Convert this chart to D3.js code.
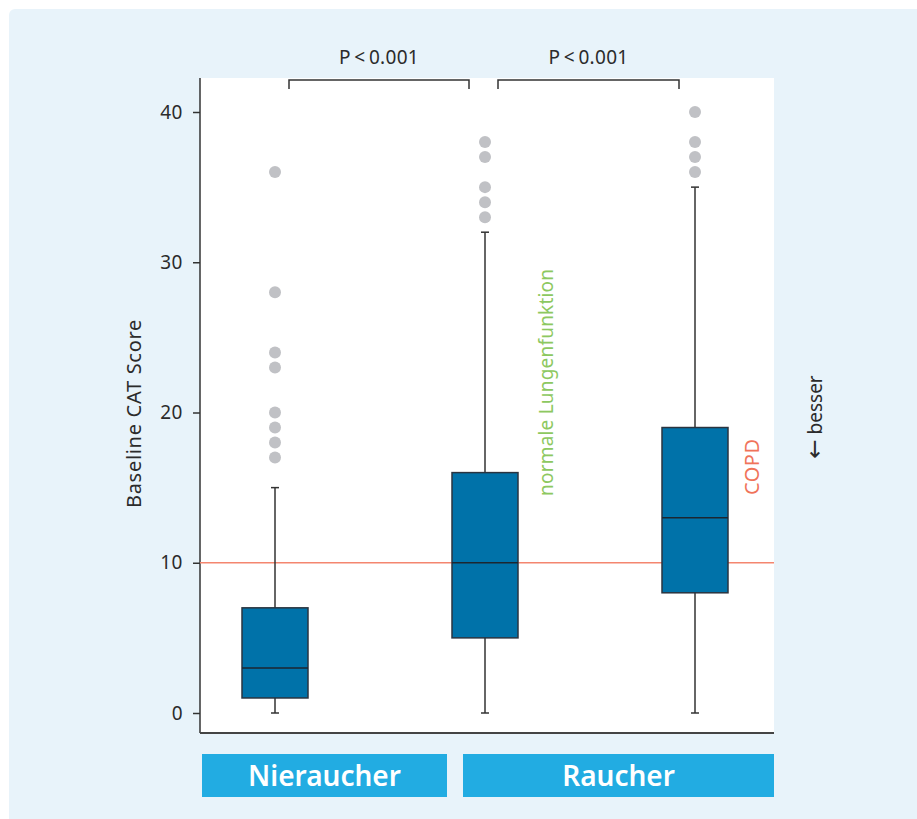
<!DOCTYPE html>
<html>
<head>
  <meta charset="utf-8">
  <title>Baseline CAT Score</title>
  <script src="https://cdnjs.cloudflare.com/ajax/libs/d3/7.8.5/d3.min.js"></script>
  <style>
    html, body { margin: 0; padding: 0; background: #ffffff; }
    text { font-family: "Noto Sans", "Open Sans", sans-serif; }
  </style>
</head>
<body>
  <div id="canvas"></div>
  <script>
    // data
    var groups = ["Nieraucher", "Raucher normal", "Raucher COPD"];
    var whiskLow = [0, 0, 0];
    var q1 = [1, 5, 8];
    var median = [3, 10, 13];
    var q3 = [7, 16, 19];
    var whiskHigh = [15, 32, 35];
    var outliers = [
      [17, 18, 19, 20, 23, 24, 28, 36],
      [33, 34, 35, 37, 38],
      [36, 37, 38, 40]
    ];
    var yTicks = [0, 10, 20, 30, 40];
    var threshold = 10;
    var pLabels = ["P\u2009<\u20090.001", "P\u2009<\u20090.001"];
    var categoryLabels = ["Nieraucher", "Raucher"];

    // layout
    var width = 917, height = 819,
      plotLeft = 200, plotRight = 774, plotTop = 78, plotBottom = 733,
      boxW = 66, capW = 8;

    var svg = d3.select("#canvas").append("svg")
      .attr("width", width).attr("height", height);

    // panel background
    svg.append("rect")
      .attr("x", 9).attr("y", 9).attr("width", 920).attr("height", 830)
      .attr("rx", 6).attr("fill", "#e8f3fa");

    svg.append("rect")
      .attr("x", plotLeft).attr("y", plotTop)
      .attr("width", plotRight - plotLeft).attr("height", plotBottom - plotTop)
      .attr("fill", "#ffffff");

    var y = d3.scaleLinear().domain([0, 40]).range([713, 112]);
    var x = d3.scalePoint().domain(groups).range([275, 695]);

    // y axis
    var yAxis = svg.append("g")
      .attr("transform", "translate(" + plotLeft + ",0)")
      .call(d3.axisLeft(y).tickValues(yTicks).tickSize(7).tickPadding(10).tickSizeOuter(0));
    yAxis.select(".domain").remove();
    yAxis.selectAll(".tick line").attr("stroke", "#333").attr("stroke-width", 1.5);
    yAxis.selectAll(".tick text")
      .attr("font-size", 19).attr("fill", "#2b2b2b").attr("letter-spacing", 0.5)
      .style("font-family", "'Noto Sans', sans-serif");

    // frame: left and bottom lines
    svg.append("line")
      .attr("x1", plotLeft).attr("x2", plotLeft)
      .attr("y1", plotTop).attr("y2", plotBottom)
      .attr("stroke", "#333").attr("stroke-width", 1.5);
    svg.append("line")
      .attr("x1", plotLeft).attr("x2", plotRight)
      .attr("y1", plotBottom).attr("y2", plotBottom)
      .attr("stroke", "#444").attr("stroke-width", 2);

    // axis title
    svg.append("text")
      .attr("transform", "translate(141," + (y(20) + 1) + ") rotate(-90)")
      .attr("text-anchor", "middle")
      .attr("font-size", 20).attr("letter-spacing", 0.7).attr("fill", "#2b2b2b")
      .text("Baseline CAT Score");

    // threshold line
    svg.append("line")
      .attr("x1", plotLeft).attr("x2", plotRight)
      .attr("y1", y(threshold)).attr("y2", y(threshold))
      .attr("stroke", "#f4866f").attr("stroke-width", 1.5);

    var boxes = groups.map(function (g, i) {
      return { g: g, lo: whiskLow[i], q1: q1[i], med: median[i], q3: q3[i], hi: whiskHigh[i], out: outliers[i] };
    });

    var bg = svg.append("g").selectAll("g").data(boxes).enter().append("g");

    // whiskers
    bg.append("line")
      .attr("x1", function (d) { return x(d.g); }).attr("x2", function (d) { return x(d.g); })
      .attr("y1", function (d) { return y(d.lo); }).attr("y2", function (d) { return y(d.hi); })
      .attr("stroke", "#333").attr("stroke-width", 1.5);
    ["lo", "hi"].forEach(function (k) {
      bg.append("line")
        .attr("x1", function (d) { return x(d.g) - capW / 2; })
        .attr("x2", function (d) { return x(d.g) + capW / 2; })
        .attr("y1", function (d) { return y(d[k]); }).attr("y2", function (d) { return y(d[k]); })
        .attr("stroke", "#333").attr("stroke-width", 1.5);
    });

    // boxes
    bg.append("rect")
      .attr("x", function (d) { return x(d.g) - boxW / 2; })
      .attr("y", function (d) { return y(d.q3); })
      .attr("width", boxW)
      .attr("height", function (d) { return y(d.q1) - y(d.q3); })
      .attr("fill", "#0072a9").attr("stroke", "#2a3440").attr("stroke-width", 1.5);

    // medians
    bg.append("line")
      .attr("x1", function (d) { return x(d.g) - boxW / 2; })
      .attr("x2", function (d) { return x(d.g) + boxW / 2; })
      .attr("y1", function (d) { return y(d.med); }).attr("y2", function (d) { return y(d.med); })
      .attr("stroke", "#1c2630").attr("stroke-width", 1.5);

    // outliers
    bg.selectAll("circle")
      .data(function (d) { return d.out.map(function (v) { return { g: d.g, v: v }; }); })
      .enter().append("circle")
      .attr("cx", function (d) { return x(d.g); })
      .attr("cy", function (d) { return y(d.v); })
      .attr("r", 6)
      .attr("fill", "#c0c1c5");

    // significance brackets
    var brackets = [[289, 469], [498, 679]];
    brackets.forEach(function (b, i) {
      svg.append("path")
        .attr("d", "M" + b[0] + ",89V80H" + b[1] + "V89")
        .attr("fill", "none").attr("stroke", "#333").attr("stroke-width", 1.5);
      svg.append("text")
        .attr("x", (b[0] + b[1]) / 2).attr("y", 64)
        .attr("text-anchor", "middle")
        .attr("font-size", 19).attr("letter-spacing", 0.3).attr("fill", "#2b2b2b")
        .text(pLabels[i]);
    });

    // annotations
    svg.append("text")
      .attr("transform", "translate(553,496) rotate(-90)")
      .attr("font-size", 19).attr("letter-spacing", 0.2).attr("fill", "#8dc860")
      .text("normale Lungenfunktion");
    svg.append("text")
      .attr("transform", "translate(759,495) rotate(-90)")
      .attr("font-size", 20).attr("letter-spacing", 0.5).attr("fill", "#f0735a")
      .text("COPD");
    var besser = svg.append("text")
      .attr("transform", "translate(822,417) rotate(-90)")
      .attr("text-anchor", "middle")
      .attr("font-size", 19).attr("fill", "#2b2b2b");
    besser.append("tspan")
      .style("font-family", "'DejaVu Sans', sans-serif")
      .attr("font-size", 23)
      .text("\u2190");
    besser.append("tspan").text(" besser");

    // category label boxes
    var catBoxes = [[202, 447], [463, 774]];
    catBoxes.forEach(function (c, i) {
      svg.append("rect")
        .attr("x", c[0]).attr("y", 754)
        .attr("width", c[1] - c[0]).attr("height", 43)
        .attr("fill", "#22ace2");
      svg.append("text")
        .attr("x", (c[0] + c[1]) / 2).attr("y", 786)
        .attr("text-anchor", "middle")
        .attr("font-size", 28).attr("font-weight", 600).attr("fill", "#ffffff")
        .text(categoryLabels[i]);
    });
  </script>
</body>
</html>
